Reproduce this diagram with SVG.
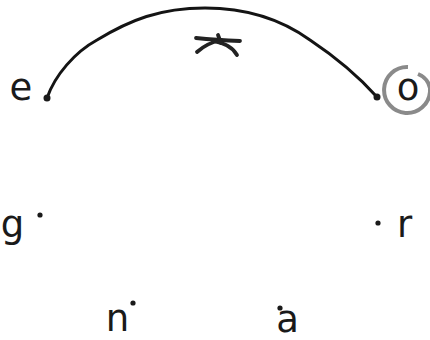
<svg xmlns="http://www.w3.org/2000/svg" width="430" height="340" viewBox="0 0 430 340">
  <style>
    .lbl { font-family: "DejaVu Sans", "Open Sans", sans-serif; font-size: 37px; fill: #1a1a1a; text-anchor: middle; }
    .dot { fill: #1a1a1a; }
    .arc { fill: none; stroke: #141414; stroke-width: 3; stroke-linecap: round; stroke-linejoin: round; }
    .star { fill: none; stroke: #222; stroke-width: 3.8; stroke-linecap: round; }
    .spiral { fill: none; stroke: #8a8a8a; stroke-width: 4; stroke-linecap: butt; }
  </style>
  <rect width="430" height="340" fill="#ffffff"/>
  <g id="connectors">
    <path class="arc" d="M47,98 C55,75 75,52 97,40 C130,20 160,8 205,8 C250,8 285,22 310,40 C340,60 360,78 377,97"/>
    <g id="star-mark">
      <path class="star" d="M196,38 Q216,40 240,41"/>
      <path class="star" d="M197,52 Q207,43 221,40"/>
      <path class="star" d="M218,35 L221,43"/>
      <path class="star" d="M213,41 Q231,44 237,55"/>
    </g>
  </g>
  <g id="e">
    <text class="lbl" x="21" y="100">e</text>
    <circle class="dot" cx="47" cy="98" r="3.5"/>
  </g>
  <g id="o">
    <path class="spiral" d="M408,67 A23,23 0 1,0 430,92 L430,88 A20,20 0 0,0 418,74"/>
    <text class="lbl" x="408" y="100">o</text>
    <circle class="dot" cx="377" cy="97" r="3.5"/>
  </g>
  <g id="g">
    <text class="lbl" x="12.5" y="237">g</text>
    <circle class="dot" cx="40" cy="215" r="2.6"/>
  </g>
  <g id="r">
    <text class="lbl" x="404.5" y="237">r</text>
    <circle class="dot" cx="378" cy="223" r="2.6"/>
  </g>
  <g id="n">
    <text class="lbl" x="117.5" y="331">n</text>
    <circle class="dot" cx="133" cy="303" r="2.6"/>
  </g>
  <g id="a">
    <text class="lbl" x="287.5" y="332">a</text>
    <circle class="dot" cx="280" cy="308" r="2.6"/>
  </g>
</svg>
